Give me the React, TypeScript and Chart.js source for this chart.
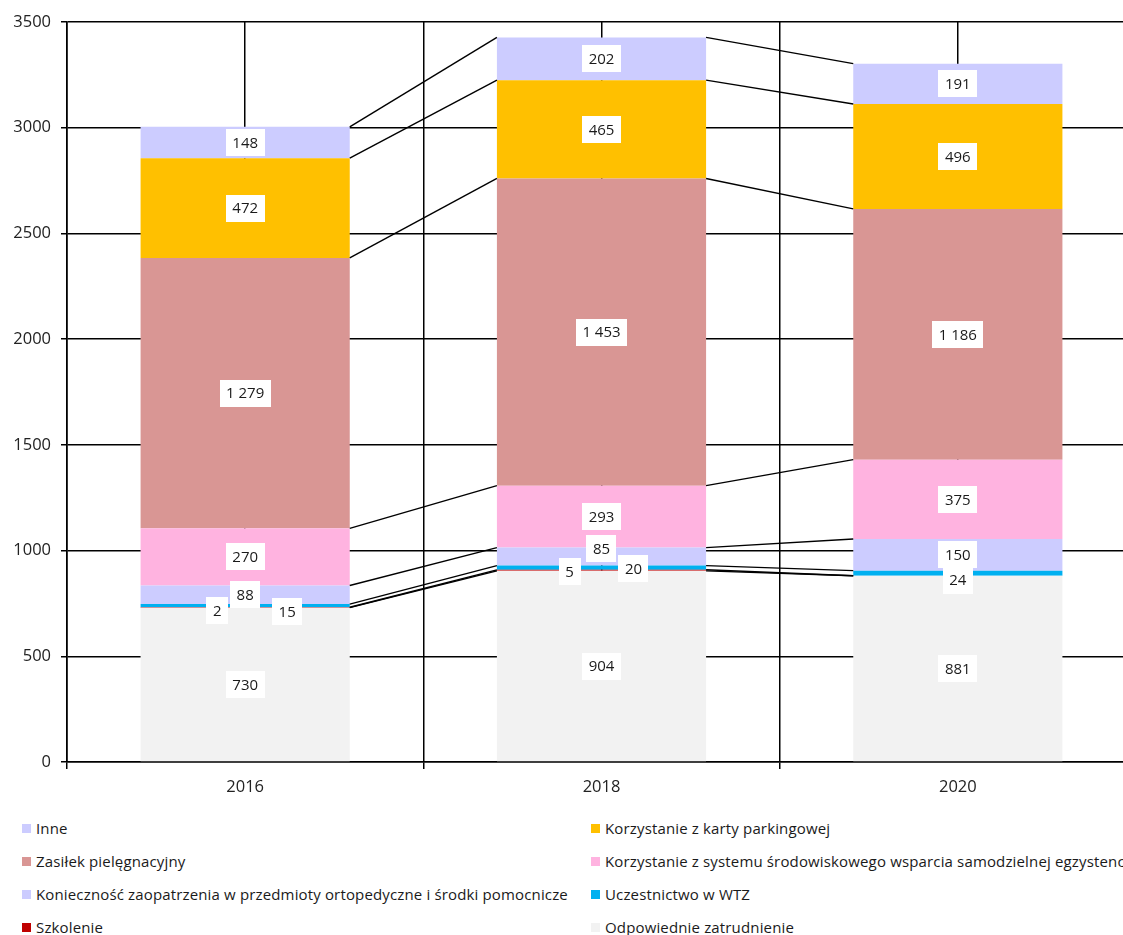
import React, { useEffect, useRef } from "react";
import { Chart, registerables } from "chart.js";

Chart.register(...registerables);

const categories = ["2016", "2018", "2020"];

const seriesNames = [
  "Odpowiednie zatrudnienie",
  "Szkolenie",
  "Uczestnictwo w WTZ",
  "Konieczność zaopatrzenia w przedmioty ortopedyczne i środki pomocnicze",
  "Korzystanie z systemu środowiskowego wsparcia samodzielnej egzystencji",
  "Zasiłek pielęgnacyjny",
  "Korzystanie z karty parkingowej",
  "Inne",
];

const odpowiednieZatrudnienie = [730, 904, 881];
const szkolenie = [2, 5, 0];
const uczestnictwoWTZ = [15, 20, 24];
const koniecznoscZaopatrzenia = [88, 85, 150];
const systemSrodowiskowy = [270, 293, 375];
const zasilekPielegnacyjny = [1279, 1453, 1186];
const kartaParkingowa = [472, 465, 496];
const inne = [148, 202, 191];

const seriesValues = [
  odpowiednieZatrudnienie,
  szkolenie,
  uczestnictwoWTZ,
  koniecznoscZaopatrzenia,
  systemSrodowiskowy,
  zasilekPielegnacyjny,
  kartaParkingowa,
  inne,
];

const colors = [
  "#F2F2F2",
  "#C00000",
  "#00B0F0",
  "#CCCCFF",
  "#FFB3E0",
  "#D99694",
  "#FFC000",
  "#CCCCFF",
];

const yTicks = [0, 500, 1000, 1500, 2000, 2500, 3000, 3500];

// manual label nudges (px) for small segments: [dataset][category] -> [dx, dy]
const labelNudge: Record<number, [number, number][]> = {
  1: [[-28, 3], [-32, 1], [0, 0]],
  2: [[42, 6], [32, 1], [0, 7]],
  3: [[0, 0], [0, -8], [0, 0]],
};

const FONT = "'Open Sans', 'DejaVu Sans', sans-serif";

function fmt(v: number): string {
  if (v >= 1000) {
    return `${Math.floor(v / 1000)} ${String(v % 1000).padStart(3, "0")}`;
  }
  return String(v);
}

const overlayPlugin = {
  id: "overlay",
  afterDatasetsDraw(chart: any) {
    const ctx = chart.ctx as CanvasRenderingContext2D;
    const n = chart.data.datasets.length;
    ctx.save();
    // series lines
    ctx.strokeStyle = "#000";
    ctx.lineWidth = 1.4;
    for (let d = 0; d < n; d++) {
      const meta = chart.getDatasetMeta(d);
      for (let j = 0; j < meta.data.length - 1; j++) {
        const a = meta.data[j] as any;
        const b = meta.data[j + 1] as any;
        ctx.beginPath();
        ctx.moveTo(a.x + a.width / 2, a.y);
        ctx.lineTo(b.x - b.width / 2, b.y);
        ctx.stroke();
      }
    }
    // labels
    ctx.font = `15px ${FONT}`;
    ctx.textAlign = "center";
    ctx.textBaseline = "middle";
    for (let d = 0; d < n; d++) {
      const meta = chart.getDatasetMeta(d);
      const vals = chart.data.datasets[d].data as number[];
      meta.data.forEach((el: any, j: number) => {
        const v = vals[j];
        if (!v) return;
        const nudge = labelNudge[d] ? labelNudge[d][j] : [0, 0];
        const cx = el.x + nudge[0];
        const cy = (el.y + el.base) / 2 + nudge[1];
        const txt = fmt(v);
        const w = ctx.measureText(txt).width + 13;
        const h = 27;
        ctx.fillStyle = "#FFFFFF";
        ctx.fillRect(Math.round(cx - w / 2), Math.round(cy - h / 2), Math.round(w), h);
        ctx.fillStyle = "#1a1a1a";
        ctx.fillText(txt, cx, cy + 1);
      });
    }
    ctx.restore();
  },
};

export default function App() {
  const ref = useRef<HTMLCanvasElement | null>(null);

  useEffect(() => {
    if (!ref.current) return;
    Chart.defaults.font.family = FONT;
    const chart = new Chart(ref.current, {
      type: "bar",
      data: {
        labels: categories,
        datasets: seriesNames.map((name, i) => ({
          label: name,
          data: seriesValues[i],
          backgroundColor: colors[i],
          borderWidth: 0,
          categoryPercentage: 1,
          barPercentage: 0.587,
          xAxisID: "x",
          yAxisID: "y",
        })),
      },
      options: {
        responsive: false,
        animation: false,
        devicePixelRatio: 1,
        layout: { padding: { top: 22, right: 4, left: 0, bottom: 0 } },
        plugins: {
          legend: { display: false },
          tooltip: { enabled: false },
        },
        scales: {
          x: {
            type: "category",
            stacked: true,
            offset: true,
            position: "bottom",
            grid: { offset: true, color: "#000", lineWidth: 1.5, tickLength: 7, drawOnChartArea: true },
            border: { color: "#000", width: 1.6 },
            ticks: { color: "#222", font: { size: 16.5 }, padding: 8 },
            afterFit: (s: any) => {
              s.height = 40;
            },
          },
          x2: {
            type: "category",
            offset: true,
            position: "top",
            grid: { offset: false, color: "#000", lineWidth: 1.5, drawTicks: false },
            border: { display: false },
            ticks: { display: false },
            afterFit: (s: any) => {
              s.height = 0;
            },
          },
          y: {
            type: "linear",
            stacked: true,
            min: 0,
            max: 3500,
            afterBuildTicks: (s: any) => {
              s.ticks = yTicks.map((v) => ({ value: v }));
            },
            grid: { color: "#000", lineWidth: 1.5, tickLength: 6 },
            border: { color: "#000", width: 1.6 },
            ticks: {
              color: "#222",
              font: { size: 16.5 },
              padding: 10,
              callback: (v: any) => String(v),
            },
            afterFit: (s: any) => {
              s.width = 67;
            },
          },
        },
      },
      plugins: [overlayPlugin],
    });
    return () => chart.destroy();
  }, []);

  const legendOrder = seriesNames.map((_, i) => i).reverse();

  return (
    <div
      style={{
        position: "fixed",
        left: 0,
        top: 0,
        width: 1140,
        height: 935,
        overflow: "hidden",
        background: "#fff",
      }}
    >
      <canvas ref={ref} width={1140} height={802} style={{ display: "block" }} />
      {legendOrder.map((idx, k) => {
        const col = k % 2;
        const row = Math.floor(k / 2);
        return (
          <div
            key={idx}
            style={{
              position: "absolute",
              left: col === 0 ? 22 : 591,
              top: 828 + row * 33 - 10,
              height: 20,
              display: "flex",
              alignItems: "center",
              whiteSpace: "nowrap",
              fontFamily: FONT,
              fontSize: 15,
              letterSpacing: "0.15px",
              color: "#1a1a1a",
            }}
          >
            <span
              style={{
                display: "inline-block",
                width: 9,
                height: 9,
                background: colors[idx],
                marginRight: 5,
              }}
            />
            <span>{seriesNames[idx]}</span>
          </div>
        );
      })}
    </div>
  );
}
